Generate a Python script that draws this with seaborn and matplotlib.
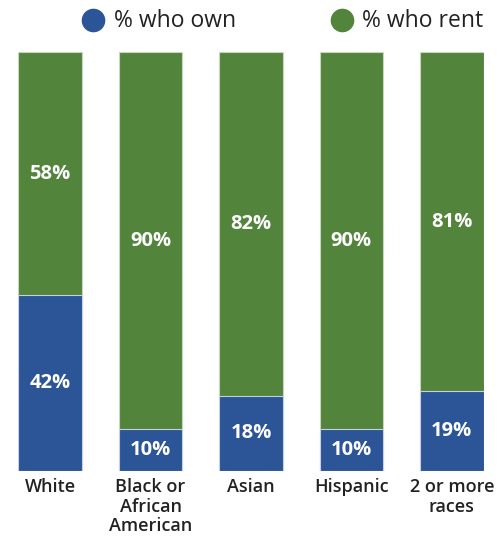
import matplotlib
matplotlib.use("Agg")
import matplotlib.pyplot as plt
from matplotlib.lines import Line2D
import seaborn as sns
import pandas as pd

categories = ["White", "Black or\nAfrican\nAmerican", "Asian", "Hispanic", "2 or more\nraces"]
own = [42, 10, 18, 10, 19]
rent = [58, 90, 82, 90, 81]
series_names = ["% who own", "% who rent"]

blue = "#2b5597"
green = "#53843c"

sns.set_theme(style="white")
plt.rcParams["font.family"] = ["Open Sans", "DejaVu Sans"]

df = pd.DataFrame({"cat": categories, "own": own, "rent": rent})
df["total"] = df["own"] + df["rent"]

fig = plt.figure(figsize=(5.04, 5.38), dpi=100)
ax = fig.add_axes([18 / 504, 67 / 538, 466 / 504, 419 / 538])

sns.barplot(data=df, x="cat", y="total", color=green, saturation=1, width=0.635,
            edgecolor="#c8d6c0", linewidth=0.8, ax=ax)
sns.barplot(data=df, x="cat", y="own", color=blue, saturation=1, width=0.635,
            edgecolor="#c8d0e0", linewidth=0.8, ax=ax)

for i, (o, r) in enumerate(zip(own, rent)):
    ax.text(i, o / 2, f"{o}%", ha="center", va="center", color="white",
            fontsize=14.5, fontweight="bold")
    ax.text(i, o + r / 2, f"{r}%", ha="center", va="center", color="white",
            fontsize=14.5, fontweight="bold")

ax.set_xlim(-0.32, 4.32)
ax.set_ylim(0, 100)
ax.set_xlabel("")
ax.set_ylabel("")
ax.set_yticks([])
ax.tick_params(axis="x", length=0, pad=5, labelsize=13, labelcolor="#222222")
for lbl in ax.get_xticklabels():
    lbl.set_linespacing(1.12)
    lbl.set_fontweight("semibold")
for s in ax.spines.values():
    s.set_visible(False)

# legend
for (cx, tx, name, col) in [(93, 114, series_names[0], blue), (342, 362, series_names[1], green)]:
    fig.add_artist(Line2D([cx / 504], [1 - 20 / 538], marker="o", markersize=16,
                          color=col, linestyle="none", transform=fig.transFigure))
    fig.text(tx / 504, 1 - 21 / 538, name, ha="left", va="center", fontsize=16.5,
             color="#222222")

fig.savefig("out.png", dpi=100)
